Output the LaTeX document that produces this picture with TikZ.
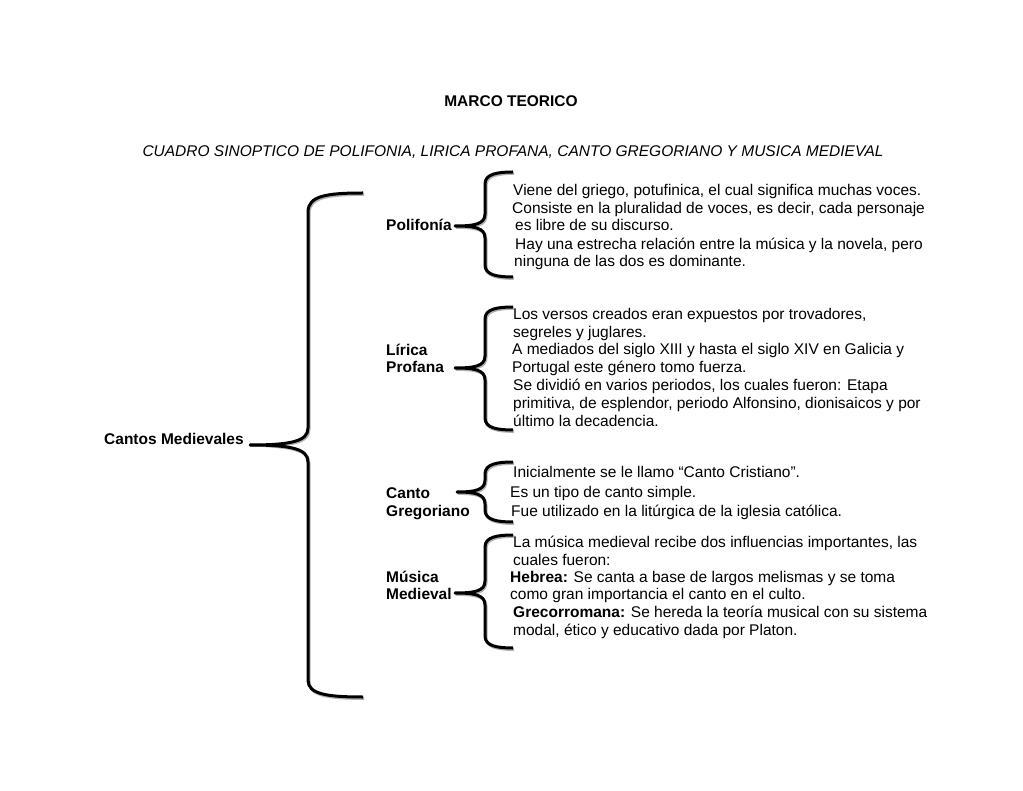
\documentclass[tikz,border=0pt]{standalone}
\usepackage{fontspec}
\setmainfont{Liberation Sans}
\begin{document}
\begin{tikzpicture}[x=1pt,y=-1pt,
  txt/.style={anchor=base west,inner sep=0pt,font=\fontsize{15.5}{17.6}\selectfont},
  lbl/.style={anchor=base west,inner sep=0pt,font=\fontsize{15.5}{17.6}\selectfont\bfseries},
  bracestyle/.style={line width=3pt,line join=round,line cap=butt},
  braceshadow/.style={line width=3pt,draw=black!30,line cap=butt,shift={(1,1.4)}}]
\useasboundingbox[fill=white] (0,0) rectangle (1023,791);
\newcommand\smallbrace[6]{%
  \foreach \st in {braceshadow,bracestyle}{%
  \draw[\st] (#1,#4) .. controls (#2+12,#4) and (#2,#4+2) .. (#2,#4+12) -- (#2,#5-12)
    .. controls (#2,#5-2) and (#2-10,#5) .. (#3,#5)
    .. controls (#2-10,#5) and (#2,#5+2) .. (#2,#5+12) -- (#2,#6-12)
    .. controls (#2,#6-2) and (#2+12,#6) .. (#1,#6);}}
% titles
\node[lbl,anchor=base] (title) at (511,107) {MARCO TEORICO};
\node[txt,anchor=base,font=\fontsize{15.5}{17.6}\selectfont\itshape] (sub) at (513,157) {CUADRO SINOPTICO DE POLIFONIA, LIRICA PROFANA, CANTO GREGORIANO Y MUSICA MEDIEVAL};
% root
\node[lbl] (root) at (104,445) {Cantos Medievales};
\coordinate (roottip) at (250,445);
\foreach \st in {braceshadow,bracestyle}{%
\draw[\st] (363,193) .. controls (326,193) and (308,196) .. (308,212) -- (308,428)
  .. controls (308,441) and (292,445) .. (roottip)
  .. controls (292,445) and (308,449) .. (308,462) -- (308,680)
  .. controls (308,694) and (326,697) .. (363,697);}
% Polifonia
\node[lbl] (pol) at (386,231) {Polifonía};
\smallbrace{513}{485}{455}{172}{226}{277}
\node[txt] (p1) at (513,196) {Viene del griego, potufinica, el cual significa muchas voces.};
\node[txt] (p2) at (512,214) {Consiste en la pluralidad de voces, es decir, cada personaje};
\node[txt] (p3) at (515,231) {es libre de su discurso.};
\node[txt] (p4) at (515,250) {Hay una estrecha relación entre la música y la novela, pero};
\node[txt] (p5) at (514,267) {ninguna de las dos es dominante.};
% Lirica
\node[lbl] (lir1) at (386,356) {Lírica};
\node[lbl] (lir2) at (386,373) {Profana};
\smallbrace{513}{485}{455}{307}{368}{430}
\node[txt] (l1) at (513,320) {Los versos creados eran expuestos por trovadores,};
\node[txt] (l2) at (513,338) {segreles y juglares.};
\node[txt] (l3) at (512,355) {A mediados del siglo XIII y hasta el siglo XIV en Galicia y};
\node[txt] (l4) at (512,373) {Portugal este género tomo fuerza.};
\node[txt] (l5) at (513,391) {Se dividió en varios periodos, los cuales fueron: Etapa};
\node[txt] (l6) at (513,409) {primitiva, de esplendor, periodo Alfonsino, dionisaicos y por};
\node[txt] (l7) at (513,427) {último la decadencia.};
% Canto
\node[lbl] (can1) at (386,498) {Canto};
\node[lbl] (can2) at (386,516) {Gregoriano};
\smallbrace{513}{485}{457}{462}{492}{522}
\node[txt] (c1) at (513,478) {Inicialmente se le llamo “Canto Cristiano”.};
\node[txt] (c2) at (510,497) {Es un tipo de canto simple.};
\node[txt] (c3) at (511,516) {Fue utilizado en la litúrgica de la iglesia católica.};
% Musica
\node[lbl] (mus1) at (386,582) {Música};
\node[lbl] (mus2) at (386,599) {Medieval};
\smallbrace{513}{485}{455}{535}{593}{648}
\node[txt] (m1) at (513,547) {La música medieval recibe dos influencias importantes, las};
\node[txt] (m2) at (513,565) {cuales fueron:};
\node[txt] (m3) at (510,582) {\textbf{Hebrea:} Se canta a base de largos melismas y se toma};
\node[txt] (m4) at (510,599) {como gran importancia el canto en el culto.};
\node[txt] (m5) at (513,617) {\textbf{Grecorromana:} Se hereda la teoría musical con su sistema};
\node[txt] (m6) at (513,635) {modal, ético y educativo dada por Platon.};
\end{tikzpicture}
\end{document}
